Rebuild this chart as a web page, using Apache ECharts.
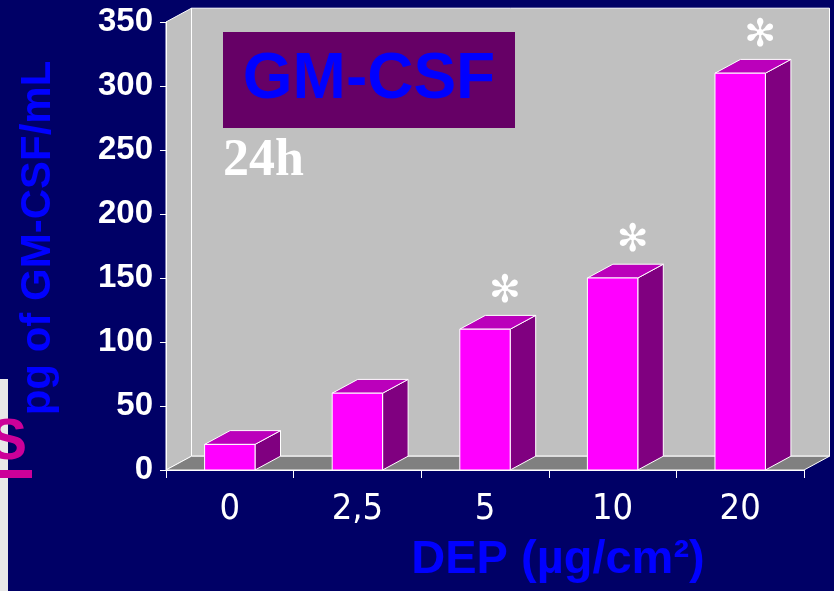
<!DOCTYPE html>
<html>
<head>
<meta charset="utf-8">
<script src="https://cdn.jsdelivr.net/npm/echarts@6/dist/echarts.min.js"></script>
<style>html,body{margin:0;padding:0;background:#000066;}#c{width:834px;height:591px;}</style>
</head>
<body>
<div id="c"></div>
<script>
const categories = ['0', '2,5', '5', '10', '20'];
const values = [20, 60, 110, 150, 310];
const marks = ['', '', '✻', '✻', '✻'];
const yMin = 0, yMax = 350, yStep = 50;

const DX = 25.5, DY = -13.8;
const chart = echarts.init(document.getElementById('c'), null, {renderer: 'canvas'});

function wallsRender(params, api) {
  const cs = params.coordSys;
  const L = cs.x, T = cs.y, R = cs.x + cs.width, B = cs.y + cs.height;
  const st = {stroke: '#ffffff', lineWidth: 1};
  return {
    type: 'group',
    children: [
      {type: 'polygon', shape: {points: [[L + DX, T + DY], [R + DX, T + DY], [R + DX, B + DY], [L + DX, B + DY]]}, style: Object.assign({fill: '#c0c0c0'}, st)},
      {type: 'polygon', shape: {points: [[L, T], [L + DX, T + DY], [L + DX, B + DY], [L, B]]}, style: Object.assign({fill: '#c0c0c0'}, st)},
      {type: 'polygon', shape: {points: [[L, B], [L + DX, B + DY], [R + DX, B + DY], [R, B]]}, style: Object.assign({fill: '#808080'}, st)}
    ]
  };
}

function barRender(params, api) {
  const i = api.value(0), v = api.value(1);
  const base = api.coord([i, 0]);
  const top = api.coord([i, v]);
  const w = api.size([1, 0])[0] * 0.395;
  const x0 = base[0] - w / 2, x1 = base[0] + w / 2;
  const yt = top[1], yb = base[1];
  const st = {stroke: '#ffffff', lineWidth: 1};
  const ch = [
    {type: 'polygon', shape: {points: [[x1, yt], [x1 + DX, yt + DY], [x1 + DX, yb + DY], [x1, yb]]}, style: Object.assign({fill: '#800080'}, st)},
    {type: 'polygon', shape: {points: [[x0, yt], [x0 + DX, yt + DY], [x1 + DX, yt + DY], [x1, yt]]}, style: Object.assign({fill: '#bb00bb'}, st)},
    {type: 'rect', shape: {x: x0, y: yt, width: w, height: yb - yt}, style: Object.assign({fill: '#ff00ff'}, st)}
  ];
  const m = marks[params.dataIndex];
  if (m) {
    ch.push({type: 'text', style: {text: m, x: base[0] + 20, y: yt - 37, align: 'center', verticalAlign: 'middle',
      font: '38px "DejaVu Sans"', fill: '#ffffff'}});
  }
  return {type: 'group', children: ch};
}

chart.setOption({
  backgroundColor: '#000066',
  animation: false,
  grid: {left: 166, right: 30, top: 22, bottom: 121},
  xAxis: {
    type: 'category', data: categories, z: 5,
    axisLine: {lineStyle: {color: '#ffffff', width: 1}},
    axisTick: {show: true, length: 8, lineStyle: {color: '#ffffff'}},
    axisLabel: {color: '#ffffff', fontSize: 36, fontFamily: '"DejaVu Sans Condensed", "DejaVu Sans"', margin: 22}
  },
  yAxis: {
    type: 'value', min: yMin, max: yMax, interval: yStep, z: 5,
    axisLine: {show: true, lineStyle: {color: '#ffffff', width: 1}},
    axisTick: {show: true, length: 6, lineStyle: {color: '#ffffff'}},
    splitLine: {show: false},
    axisLabel: {color: '#ffffff', fontSize: 33, fontWeight: 'bold', fontFamily: '"Liberation Sans", Arial', margin: 13}
  },
  series: [
    {type: 'custom', renderItem: wallsRender, data: [[0, 0]], z: 1, silent: true, clip: false},
    {type: 'custom', renderItem: barRender, data: values.map((v, i) => [i, v]), encode: {x: 0, y: 1}, z: 2, clip: false}
  ],
  graphic: [
    {type: 'rect', left: 0, top: 379, shape: {width: 8, height: 212}, style: {fill: '#e8e8e8'}, z: 10},
    {type: 'text', x: 27, y: 443, style: {text: 'S', align: 'right', verticalAlign: 'middle', font: 'bold 57px "Liberation Sans", Arial', fill: '#cc0099'}, z: 11},
    {type: 'rect', left: 0, top: 470, shape: {width: 32, height: 8}, style: {fill: '#cc0099'}, z: 11},
    {type: 'text', x: 38, y: 238, rotation: Math.PI / 2, style: {text: 'pg of GM-CSF/mL', align: 'center', verticalAlign: 'middle', font: 'bold 42px "Liberation Sans", Arial', fill: '#0000ff'}, z: 10},
    {type: 'text', x: 558, y: 560, style: {text: 'DEP (µg/cm²)', align: 'center', verticalAlign: 'middle', font: 'bold 47px "Liberation Sans", Arial', fill: '#0000ff'}, z: 10},
    {type: 'rect', x: 223, y: 32, shape: {width: 292, height: 96}, style: {fill: '#660066'}, z: 10},
    {type: 'text', x: 369, y: 80, style: {text: 'GM-CSF', align: 'center', verticalAlign: 'middle', font: 'bold 64px "Liberation Sans", Arial', fill: '#0000ff'}, z: 11},
    {type: 'text', x: 223, y: 162, style: {text: '24h', align: 'left', verticalAlign: 'middle', font: 'bold 52px "Liberation Serif", serif', fill: '#ffffff'}, z: 11}
  ]
});
</script>
</body>
</html>
